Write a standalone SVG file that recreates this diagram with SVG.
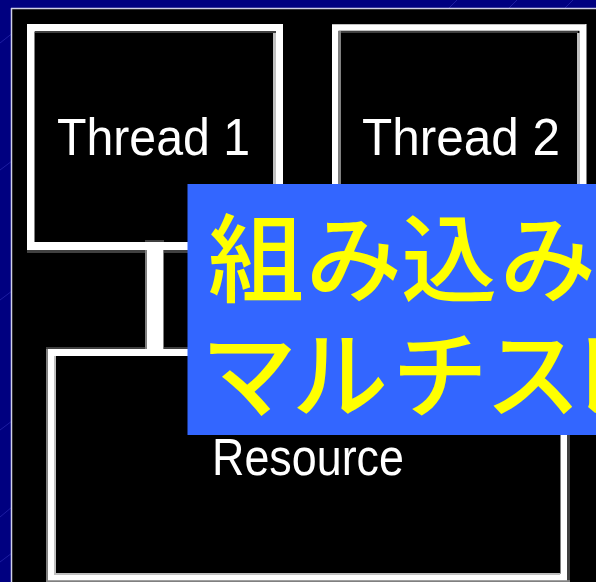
<svg xmlns="http://www.w3.org/2000/svg" width="596" height="582" viewBox="0 0 596 582">
  <style>
    .band { fill: none; stroke: #ffffff; }
    .dk { fill: #404040; }
    .md { fill: #808080; }
    .lt { fill: #c0c0c0; }
    .lbl { font-family: "Liberation Sans", Arial, sans-serif; font-size: 52px; fill: #ffffff; }
    .title { font-family: "Noto Sans CJK JP", "Noto Sans CJK SC", sans-serif; font-size: 96px; font-weight: 500; fill: #ffff00; }
    .streak { stroke: #2a2ab0; stroke-width: 1; opacity: 0.7; }
  </style>
  <!-- background -->
  <rect x="0" y="0" width="596" height="582" fill="#000080"/>
  <g id="streaks">
    <line class="streak" x1="0" y1="43" x2="14" y2="32"/>
    <line class="streak" x1="0" y1="170" x2="12" y2="161"/>
    <line class="streak" x1="0" y1="300" x2="12" y2="291"/>
    <line class="streak" x1="0" y1="430" x2="12" y2="421"/>
    <line class="streak" x1="0" y1="517" x2="12" y2="507"/>
    <line class="streak" x1="0" y1="562" x2="12" y2="553"/>
    <line class="streak" x1="449" y1="8" x2="457" y2="0"/>
    <line class="streak" x1="509" y1="8" x2="517" y2="0"/>
    <line class="streak" x1="565" y1="8" x2="573" y2="0"/>
  </g>
  <rect x="11" y="8" width="585" height="574" fill="#000000"/>
  <line x1="11.5" y1="8" x2="11.5" y2="582" stroke="#d0d0e8" stroke-width="1.5"/>
  <line x1="11" y1="8.5" x2="596" y2="8.5" stroke="#d0d0e8" stroke-width="1.5"/>

  <!-- Thread 1 -->
  <g id="thread1">
    <rect class="dk" x="27" y="250" width="256" height="3"/>
    <rect class="band" x="30.75" y="27.75" width="248.5" height="218.5" stroke-width="7.5"/>
    <rect class="dk" x="35" y="31" width="241" height="2"/>
    <rect class="lt" x="273" y="33" width="3" height="209"/>
    <text class="lbl" x="57" y="155" textLength="193" lengthAdjust="spacingAndGlyphs">Thread 1</text>
  </g>

  <!-- Thread 2 -->
  <g id="thread2">
    <rect class="md" x="585" y="24" width="2" height="229"/>
    <rect class="dk" x="332" y="250" width="255" height="3"/>
    <rect class="band" x="335.25" y="27.5" width="247.5" height="219" stroke-width="6.5"/>
    <rect class="dk" x="340" y="31" width="238" height="2"/>
    <rect class="md" x="338" y="31" width="3" height="211"/>
    <rect class="lt" x="577" y="33" width="3" height="209"/>
    <text class="lbl" x="362" y="155" textLength="198" lengthAdjust="spacingAndGlyphs">Thread 2</text>
  </g>

  <!-- Resource -->
  <g id="resource">
    <rect class="md" x="46" y="347" width="2" height="235"/>
    <rect class="dk" x="46" y="347" width="524" height="2"/>
    <rect class="dk" x="567" y="347" width="3" height="235"/>
    <rect class="md" x="46" y="580" width="524" height="2"/>
    <rect class="band" x="51.25" y="352.5" width="512.5" height="224.5" stroke-width="6.5"/>
    <rect class="lt" x="54" y="356" width="2" height="219"/>
    <rect class="lt" x="54" y="573" width="506" height="2"/>
    <text class="lbl" x="212" y="475" textLength="192" lengthAdjust="spacingAndGlyphs">Resource</text>
  </g>

  <!-- connectors -->
  <g id="connectors">
    <rect class="md" x="145" y="242" width="19" height="108"/>
    <rect class="dk" x="145" y="240" width="19" height="2"/>
    <rect x="147" y="242" width="16" height="110" fill="#ffffff"/>
    <rect x="27" y="242" width="256" height="8" fill="#ffffff"/>
    <rect x="48" y="349" width="519" height="7" fill="#ffffff"/>
  </g>

  <!-- title overlay -->
  <g id="title">
    <rect x="187.5" y="184" width="420" height="251" fill="#3366ff"/>
    <text class="title" x="208 306 401 500" y="294">組み込み</text>
    <text class="title" x="201 292 392 485 568 664 760" y="410">マルチスレッド</text>
  </g>
</svg>
